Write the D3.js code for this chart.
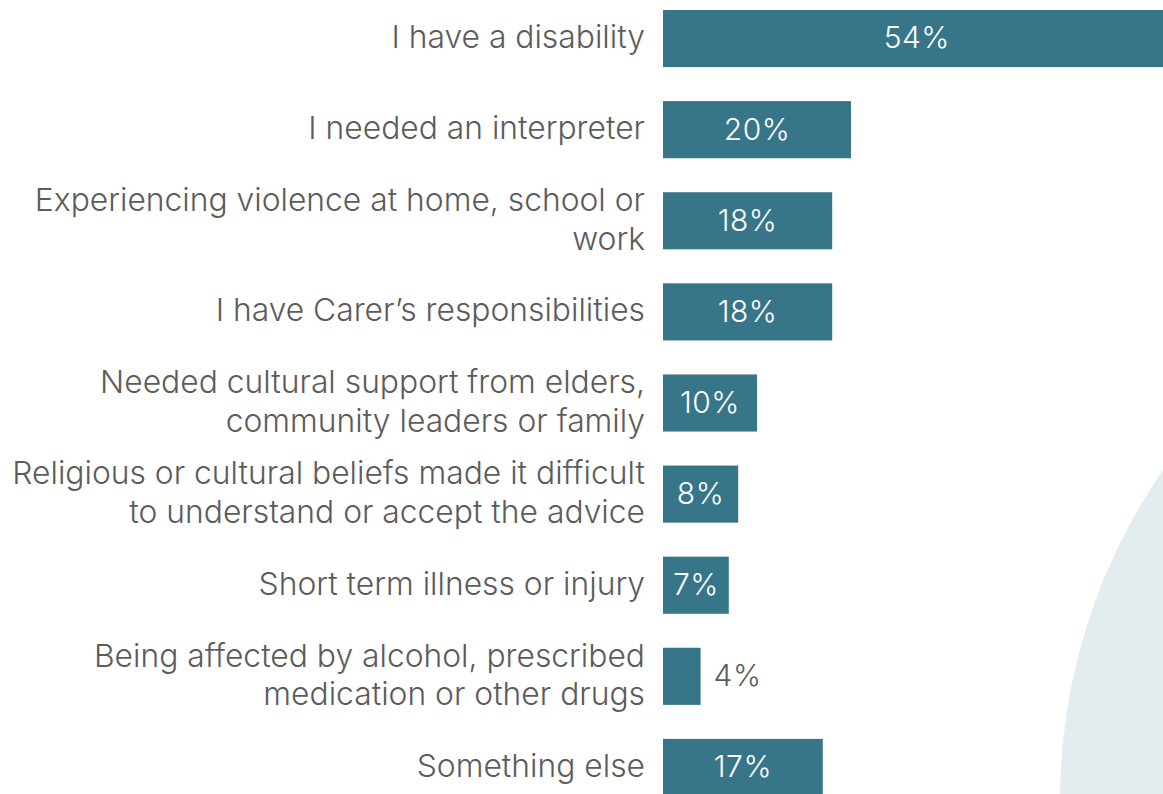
<!DOCTYPE html>
<html>
<head>
<meta charset="utf-8">
<script src="https://cdn.jsdelivr.net/npm/d3@7"></script>
<style>
  html, body { margin: 0; padding: 0; background: #ffffff; overflow: hidden; }
  svg { display: block; }
</style>
</head>
<body>
<svg id="chart" width="1163" height="794"></svg>
<script>
// Reasons people gave for needing extra help (share of respondents, %)
const categories = [
  "I have a disability",
  "I needed an interpreter",
  "Experiencing violence at home, school or\nwork",
  "I have Carer\u2019s responsibilities",
  "Needed cultural support from elders,\ncommunity leaders or family",
  "Religious or cultural beliefs made it difficult\nto understand or accept the advice",
  "Short term illness or injury",
  "Being affected by alcohol, prescribed\nmedication or other drugs",
  "Something else"
];
const values = [54, 20, 18, 18, 10, 8, 7, 4, 17];

const W = 1163, H = 794;
const FONT = "Inter, 'Noto Sans', sans-serif";
const BAR = "#377589";
const TEXT = "#5c5c5c";

const svg = d3.select("#chart");

// soft decorative disc in the lower right
svg.append("circle")
  .attr("cx", 1640).attr("cy", 800).attr("r", 580)
  .attr("fill", "#e3edf0");

const x = d3.scaleLinear().domain([0, 100]).range([663, 663 + 940]);
const y = d3.scaleBand()
  .domain(categories)
  .range([10, 796])
  .paddingInner(0.373)
  .paddingOuter(0);

const rows = svg.append("g").selectAll("g")
  .data(categories.map((c, i) => ({ c, v: values[i] })))
  .join("g");

rows.append("rect")
  .attr("x", x(0))
  .attr("y", d => y(d.c))
  .attr("width", d => x(d.v) - x(0))
  .attr("height", y.bandwidth())
  .attr("fill", BAR);

// category labels, right aligned against the bars
const lineH = 38.5;
rows.append("text")
  .attr("text-anchor", "end")
  .attr("font-family", FONT)
  .attr("font-weight", 300)
  .attr("font-size", 31.8)
  .attr("fill", TEXT)
  .each(function (d) {
    const lines = d.c.split("\n");
    const cy = y(d.c) + y.bandwidth() / 2;
    const t = d3.select(this);
    lines.forEach((ln, k) => {
      t.append("tspan")
        .attr("x", 645)
        .attr("y", cy + (k - (lines.length - 1) / 2) * lineH)
        .attr("dy", "0.3em")
        .text(ln);
    });
  });

// value labels: inside the bar when it fits, otherwise just past its end
const minInside = 6;
rows.append("text")
  .attr("font-family", FONT)
  .attr("font-weight", 300)
  .attr("font-size", 30)
  .attr("letter-spacing", 0.5)
  .attr("dy", "0.33em")
  .attr("y", d => y(d.c) + y.bandwidth() / 2)
  .attr("x", d => d.v >= minInside ? (x(0) + x(d.v)) / 2 : x(d.v) + 13)
  .attr("text-anchor", d => d.v >= minInside ? "middle" : "start")
  .attr("fill", d => d.v >= minInside ? "#ffffff" : TEXT)
  .text(d => d.v + "%");
</script>
</body>
</html>
